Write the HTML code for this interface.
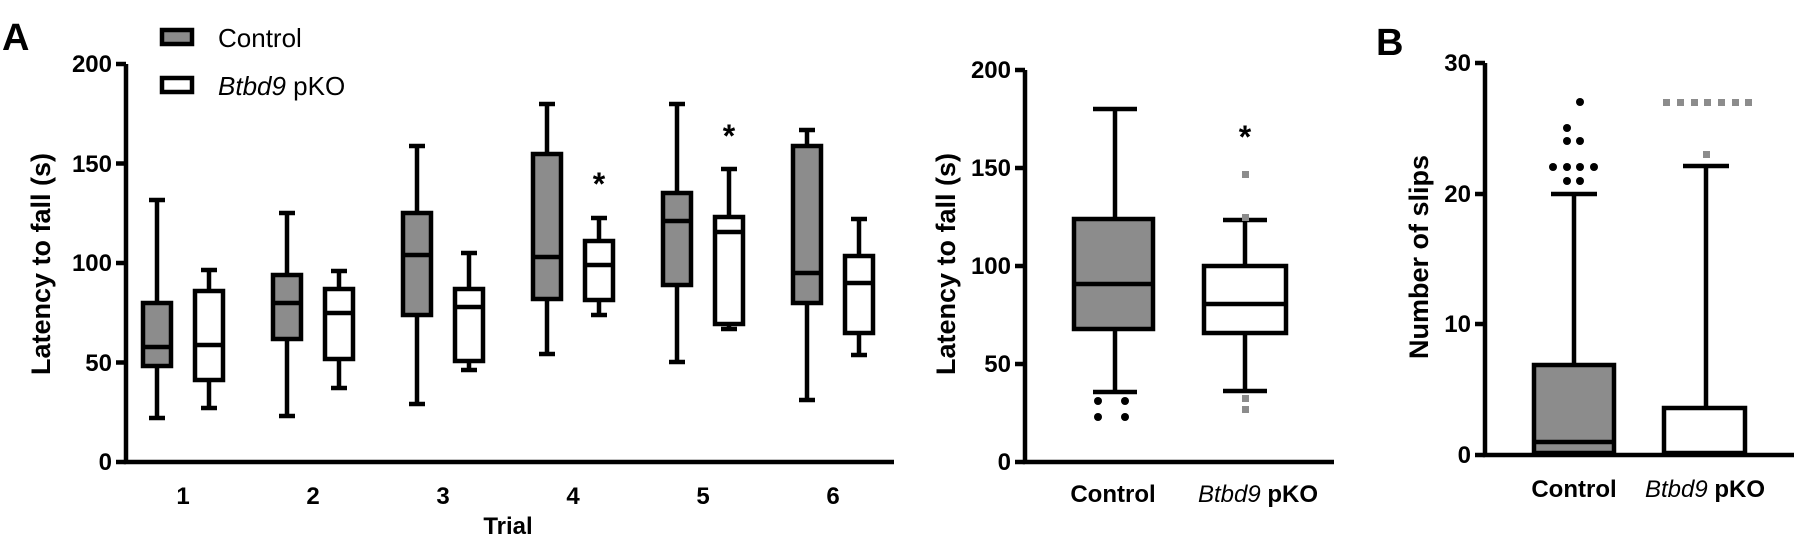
<!DOCTYPE html>
<html><head><meta charset="utf-8"><style>
html,body{margin:0;padding:0;background:#fff;}
svg{display:block;}
text{font-family:"Liberation Sans",Arial,sans-serif;}
.t{font-size:24px;font-weight:bold;fill:#000;}
.yl{font-size:27px;font-weight:bold;fill:#000;}
</style></head><body>
<svg width="1800" height="537" viewBox="0 0 1800 537" xmlns="http://www.w3.org/2000/svg">
<g stroke="#000" stroke-width="4.5" fill="none">
<path d="M126 64 V462 H894"/>
<path d="M116 64 H126 M116 163.5 H126 M116 263 H126 M116 362.5 H126 M116 462 H126"/>
<path d="M1025 70 V462 H1334"/>
<path d="M1015 70 H1025 M1015 168 H1025 M1015 266 H1025 M1015 364 H1025 M1015 462 H1025"/>
<path d="M1485 63 V455 H1794"/>
<path d="M1475 63 H1485 M1475 194 H1485 M1475 324 H1485 M1475 455 H1485"/>
</g>
<g stroke="#000" stroke-width="4.5">
<path d="M157 200 V418 M149 200 H165 M149 418 H165
M209 270 V408 M201 270 H217 M201 408 H217
M287 213 V416 M279 213 H295 M279 416 H295
M339 271 V388 M331 271 H347 M331 388 H347
M417 146 V404 M409 146 H425 M409 404 H425
M469 253 V370 M461 253 H477 M461 370 H477
M547 104 V354 M539 104 H555 M539 354 H555
M599 218 V315 M591 218 H607 M591 315 H607
M677 104 V362 M669 104 H685 M669 362 H685
M729 169 V329 M721 169 H737 M721 329 H737
M807 130 V400 M799 130 H815 M799 400 H815
M859 219 V355 M851 219 H867 M851 355 H867"/>
<rect x="143" y="303" width="28" height="63" fill="#8c8c8c"/>
<rect x="195" y="291" width="28" height="89" fill="#fff"/>
<rect x="273" y="275" width="28" height="64" fill="#8c8c8c"/>
<rect x="325" y="289" width="28" height="70" fill="#fff"/>
<rect x="403" y="213" width="28" height="102" fill="#8c8c8c"/>
<rect x="455" y="289" width="28" height="72" fill="#fff"/>
<rect x="533" y="154" width="28" height="145" fill="#8c8c8c"/>
<rect x="585" y="241" width="28" height="59" fill="#fff"/>
<rect x="663" y="193" width="28" height="92" fill="#8c8c8c"/>
<rect x="715" y="217" width="28" height="107" fill="#fff"/>
<rect x="793" y="146" width="28" height="157" fill="#8c8c8c"/>
<rect x="845" y="256" width="28" height="77" fill="#fff"/>
<path d="M143 347 H171 M195 345 H223 M273 303 H301 M325 313 H353 M403 255 H431 M455 307 H483 M533 257 H561 M585 265 H613 M663 221 H691 M715 232 H743 M793 273 H821 M845 283 H873"/>
<path d="M1115 109 V219 M1115 329 V392 M1093 109 H1137 M1093 392 H1137"/>
<rect x="1074" y="219" width="79" height="110" fill="#8c8c8c"/>
<path d="M1074 284 H1153"/>
<path d="M1245 220 V266 M1245 333 V391 M1223 220 H1267 M1223 391 H1267"/>
<rect x="1204" y="266" width="82" height="67" fill="#fff"/>
<path d="M1204 304 H1286"/>
<path d="M1574 194 V365 M1551 194 H1597"/>
<rect x="1534" y="365" width="80" height="88" fill="#8c8c8c"/>
<path d="M1534 442 H1614"/>
<path d="M1706 166 V408 M1683 166 H1729"/>
<rect x="1664" y="408" width="81" height="45" fill="#fff"/>
</g>
<g fill="#000">
<circle cx="1098" cy="401" r="4"/><circle cx="1125" cy="401" r="4"/>
<circle cx="1098" cy="417" r="4"/><circle cx="1125" cy="417" r="4"/>
<circle cx="1580" cy="102" r="4"/>
<circle cx="1567" cy="128" r="4"/>
<circle cx="1567" cy="141" r="4"/><circle cx="1580" cy="141" r="4"/>
<circle cx="1553" cy="167" r="4"/><circle cx="1567" cy="167" r="4"/><circle cx="1580" cy="167" r="4"/><circle cx="1594" cy="167" r="4"/>
<circle cx="1567" cy="181" r="4"/><circle cx="1580" cy="181" r="4"/>
</g>
<g fill="#8c8c8c">
<rect x="1242" y="171" width="7" height="7"/>
<rect x="1242" y="214" width="7" height="7"/>
<rect x="1242" y="395" width="7" height="7"/>
<rect x="1242" y="406" width="7" height="7"/>
<rect x="1663" y="99" width="7" height="7"/><rect x="1677" y="99" width="7" height="7"/><rect x="1691" y="99" width="7" height="7"/><rect x="1704" y="99" width="7" height="7"/><rect x="1718" y="99" width="7" height="7"/><rect x="1732" y="99" width="7" height="7"/><rect x="1745" y="99" width="7" height="7"/>
<rect x="1703" y="151" width="7" height="7"/>
</g>
<g class="t" text-anchor="middle">
<text x="599" y="195" style="font-size:32px">*</text>
<text x="729" y="147" style="font-size:32px">*</text>
<text x="1245" y="148" style="font-size:32px">*</text>
</g>
<text x="2" y="50" style="font-size:38px;font-weight:900">A</text>
<text x="1376" y="55" style="font-size:38px;font-weight:900">B</text>
<rect x="162" y="30" width="30" height="14" fill="#8c8c8c" stroke="#000" stroke-width="4.5"/>
<rect x="162" y="78" width="30" height="14" fill="#fff" stroke="#000" stroke-width="4.5"/>
<text x="218" y="47" style="font-size:26px">Control</text>
<text x="218" y="95" style="font-size:26px"><tspan font-style="italic">Btbd9</tspan> pKO</text>
<g class="t" text-anchor="end">
<text x="112" y="72">200</text><text x="112" y="172">150</text><text x="112" y="271">100</text><text x="112" y="371">50</text><text x="112" y="470">0</text>
<text x="1011" y="78">200</text><text x="1011" y="176">150</text><text x="1011" y="274">100</text><text x="1011" y="372">50</text><text x="1011" y="470">0</text>
<text x="1471" y="71">30</text><text x="1471" y="202">20</text><text x="1471" y="332">10</text><text x="1471" y="463">0</text>
</g>
<g class="t" text-anchor="middle">
<text x="183" y="504">1</text><text x="313" y="504">2</text><text x="443" y="504">3</text><text x="573" y="504">4</text><text x="703" y="504">5</text><text x="833" y="504">6</text>
<text x="508" y="534">Trial</text>
<text x="1113" y="502">Control</text>
<text x="1258" y="502"><tspan font-style="italic" font-weight="normal">Btbd9</tspan> pKO</text>
<text x="1574" y="497">Control</text>
<text x="1705" y="497"><tspan font-style="italic" font-weight="normal">Btbd9</tspan> pKO</text>
</g>
<g class="yl" text-anchor="middle">
<text transform="translate(50,264) rotate(-90)">Latency to fall (s)</text>
<text transform="translate(955,264) rotate(-90)">Latency to fall (s)</text>
<text transform="translate(1428,257) rotate(-90)">Number of slips</text>
</g>
</svg>
</body></html>
